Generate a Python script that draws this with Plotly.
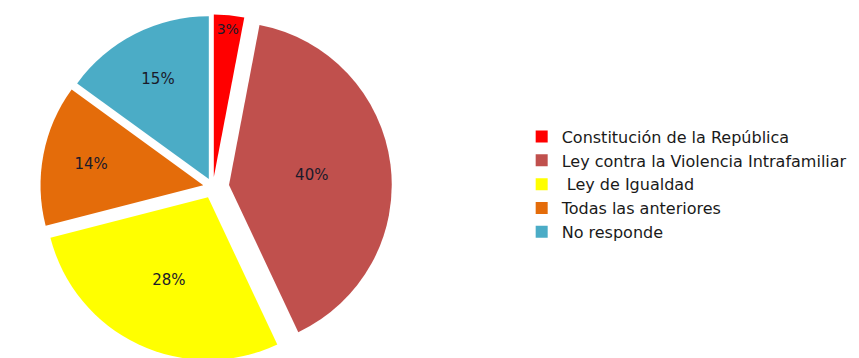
import plotly.graph_objects as go

categories = ["Constitución de la República", "Ley contra la Violencia Intrafamiliar",
              " Ley de Igualdad", "Todas las anteriores", "No responde"]
values = [3, 40, 28, 14, 15]
colors = ["#FF0000", "#C0504D", "#FFFF00", "#E46C0A", "#4BACC6"]
pulls = [0.06, 0.10, 0.07, 0.06, 0.055]

fig = go.Figure(go.Pie(
    labels=categories,
    values=values,
    marker=dict(colors=colors, line=dict(width=0)),
    sort=False,
    direction="clockwise",
    rotation=0,
    pull=pulls,
    textinfo="percent",
    texttemplate="%{percent:.0%}",
    textposition="inside",
    insidetextorientation="horizontal",
    textfont=dict(family="DejaVu Sans, Arial, sans-serif", size=15, color="#1a1a2a"),
    domain=dict(x=[0, 0.477], y=[0, 1]),
    hoverinfo="label+percent",
))

fig.update_layout(
    width=859, height=358,
    margin=dict(l=0, r=0, t=0, b=0),
    paper_bgcolor="white",
    plot_bgcolor="white",
    showlegend=True,
    legend=dict(
        x=0.598, y=0.508, xanchor="left", yanchor="middle",
        font=dict(family="DejaVu Sans, Arial, sans-serif", size=16, color="#1a1a1a"),
        bgcolor="rgba(0,0,0,0)",
    ),
)

fig.write_html("out.html")
